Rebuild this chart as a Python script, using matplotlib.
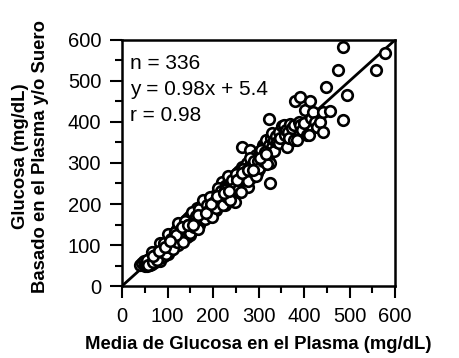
import matplotlib
matplotlib.use('Agg')
import matplotlib.pyplot as plt

plt.rcParams['font.family'] = ['Liberation Sans', 'DejaVu Sans']

# plasma glucose mean (x) vs meter glucose (y)
plasma = [
    40, 45, 48, 50, 52, 55, 55, 58, 60, 60, 62, 62, 63, 65, 66, 68, 70, 70,
    72, 74, 75, 76, 78, 80, 80, 82, 83, 85, 86, 88, 90, 90, 92, 93, 95, 96,
    98, 100, 100,
    102, 104, 105, 107, 108, 110, 110, 112, 113, 115, 116, 118, 120, 120,
    122, 123, 125, 126, 128, 128, 130, 131, 133, 135, 135, 137, 138, 140,
    140, 142, 143, 145, 146, 147, 148, 150, 150, 150,
    152, 153, 155, 155, 157, 158, 160, 160, 162, 163, 165, 165, 167, 168,
    170, 170, 172, 173, 175, 175, 177, 178, 180, 180, 182, 183, 185, 186,
    188, 188, 190, 190, 192, 193, 195, 195, 197, 198, 200, 200,
    202, 203, 205, 206, 208, 210, 210, 212, 213, 215, 216, 218, 219, 220,
    222, 223, 225, 226, 227, 228, 230, 232, 233, 235, 236, 237, 238, 240,
    242, 243, 245, 245, 246, 248, 248, 250,
    252, 252, 254, 255, 257, 258, 259, 260, 262, 263, 263, 265, 266, 268,
    270, 272, 274, 275, 276, 278, 280, 281, 282, 284, 285, 286, 288, 290,
    292, 293, 295, 296, 298, 300, 300,
    303, 305, 307, 309, 311, 312, 314, 316, 318, 320, 322, 323, 325, 325,
    325, 327, 329, 330, 333, 335, 338, 340, 344, 346, 348,
    351, 355, 358, 360, 362, 365, 368, 370, 374, 377, 377, 380, 384, 388,
    391, 391, 395, 399, 402, 406, 410, 413, 415, 420, 425, 428, 435, 442,
    442, 448,
    457, 475, 486, 486, 494, 558, 578,
    55, 58, 65, 68, 72, 78, 84, 88, 92, 96, 100, 104, 108, 112, 116, 120,
    124, 127, 130, 134, 138, 142, 146, 150, 154, 158, 162, 166, 170, 174,
    178, 182, 186, 190, 194, 198, 202, 206, 210, 214, 218, 222, 226, 230,
    234, 238, 242, 246, 250, 254, 258, 262, 266, 270, 274, 278, 282, 286,
    290, 294, 298, 302, 306, 310, 314, 318,
    118, 132, 144, 156, 168, 184, 196, 208, 224, 236, 252, 264, 276, 288,
    304, 316, 68, 82, 94, 106,
]
meter = [
    52, 55, 60, 48, 58, 62, 50, 55, 66, 52, 58, 51, 70, 60, 54, 75, 62, 68,
    58, 72, 80, 64, 70, 85, 66, 75, 62, 78, 90, 70, 82, 95, 74, 88, 80, 100,
    86, 92, 78,
    110, 95, 120, 100, 88, 115, 125, 105, 98, 130, 118, 108, 140, 112,
    125, 100, 135, 118, 145, 128, 110, 138, 124, 150, 115, 140, 128, 160,
    132, 120, 150, 140, 165, 128, 152, 145, 170, 125,
    160, 138, 175, 150, 165, 142, 172, 155, 180, 148, 168, 190, 158, 175,
    150, 185, 168, 195, 178, 160, 200, 170, 188, 165, 205, 178, 195, 168,
    210, 185, 172, 200, 190, 215, 180, 205, 195, 175, 210, 190,
    220, 198, 212, 185, 225, 205, 195, 230, 215, 200, 235, 222, 254, 210,
    240, 225, 205, 198, 245, 230, 218, 250, 238, 225, 260, 254, 242, 230,
    258, 222, 250, 210, 268, 240, 206, 262,
    275, 248, 265, 238, 280, 258, 230, 270, 250, 290, 340, 275, 260, 245,
    285, 268, 279, 300, 258, 242, 290, 332, 272, 305, 265, 295, 280, 310,
    307, 290, 320, 275, 300, 315, 285,
    330, 300, 320, 345, 340, 310, 326, 355, 335, 315, 407, 345, 328, 299,
    250, 360, 372, 340, 355, 330, 365, 350, 348, 375, 360,
    390, 393, 368, 380, 340, 375, 360, 395, 385, 393, 356, 450, 356, 400,
    462, 393, 380, 397, 429, 368, 368, 450, 410, 425, 400, 389, 401, 425,
    376, 485,
    427, 527, 584, 405, 466, 528, 568,
    63, 52, 83, 58, 76, 64, 106, 84, 104, 78, 128, 96, 114, 90, 132, 108,
    154, 125, 140, 108, 158, 136, 148, 130, 180, 144, 170, 138, 188, 170,
    210, 164, 198, 182, 216, 168, 206, 190, 238, 212, 232, 198, 234, 218,
    268, 210, 258, 240, 274, 234, 260, 230, 286, 260, 284, 256, 312, 282,
    304, 268, 304, 288, 332, 304, 326, 298,
    125, 145, 148, 150, 172, 178, 200, 220, 228, 232, 258, 275, 282, 284,
    312, 322, 72, 85, 96, 110,
]
axis_ticks = [0, 100, 200, 300, 400, 500, 600]
stats_lines = ['n = 336', 'y = 0.98x + 5.4', 'r = 0.98']

fig = plt.figure(figsize=(4.59, 3.58), dpi=100)
ax = fig.add_axes([0.2658, 0.2011, 0.5948, 0.6872])

ax.plot([0, 600], [0, 600], color='black', lw=2, zorder=2)
ax.scatter(plasma, meter, s=58, facecolors='white', edgecolors='black',
           linewidths=1.9, zorder=3)

ax.set_xlim(0, 600)
ax.set_ylim(0, 600)
ax.set_xticks(axis_ticks)
ax.set_yticks(axis_ticks)
ax.set_xticks(range(50, 600, 100), minor=True)
ax.set_yticks(range(50, 600, 100), minor=True)
ax.tick_params(which='major', direction='out', length=8.5, width=1.5,
               labelsize=14.5, pad=6.5)
ax.tick_params(which='minor', direction='out', length=5, width=1.5)
for sp in ax.spines.values():
    sp.set_linewidth(1.8)

for i, line in enumerate(stats_lines):
    ax.text(0.03, 0.906 - i * 0.107, line, transform=ax.transAxes,
            fontsize=15, va='center', ha='left')

ax.set_xlabel('Media de Glucosa en el Plasma (mg/dL)', fontsize=13.3,
              fontweight='bold', labelpad=7)
ax.set_ylabel('Glucosa (mg/dL)\nBasado en el Plasma y/o Suero', fontsize=13.3,
              fontweight='bold', linespacing=1.25)
ax.yaxis.set_label_coords(-0.268, 0.528)

fig.savefig('out.png', dpi=100)
